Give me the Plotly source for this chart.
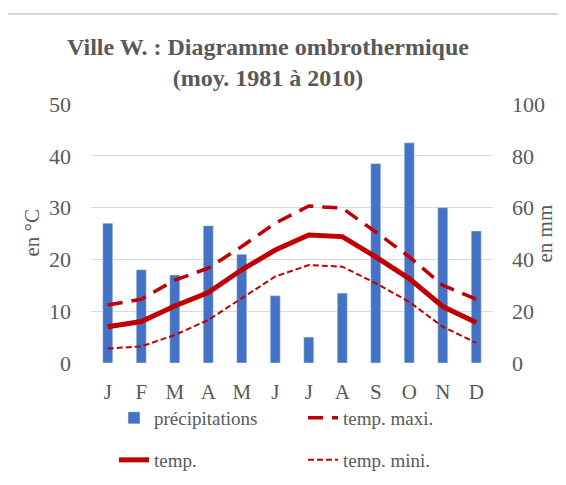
import plotly.graph_objects as go

months = ["J", "F", "M", "A", "M", "J", "J", "A", "S", "O", "N", "D"]
month_ids = list(range(12))
precip_mm = [54, 36, 34, 53, 42, 26, 10, 27, 77, 85, 60, 51]
temp_mean = [7.0, 8.0, 11.0, 13.6, 18.0, 21.8, 24.7, 24.4, 20.5, 16.3, 10.9, 7.8]
temp_max = [11.2, 12.3, 16.0, 18.3, 22.5, 27.0, 30.3, 29.9, 25.3, 20.5, 15.0, 12.3]
temp_min = [2.8, 3.2, 5.4, 8.3, 12.5, 16.7, 18.9, 18.6, 15.4, 11.8, 7.0, 3.9]

FONT = "Liberation Serif, Times New Roman, serif"
GREY = "#595959"
RED = "#C00000"
BLUE = "#4472C4"

fig = go.Figure()
fig.add_trace(go.Bar(x=month_ids, y=precip_mm, name="précipitations", marker_color=BLUE,
                     yaxis="y", legend="legend"))
fig.add_trace(go.Scatter(x=month_ids, y=temp_max, name="temp. maxi.", mode="lines",
                         line=dict(color=RED, width=3.5, dash="15px,9px"), yaxis="y2", legend="legend"))
fig.add_trace(go.Scatter(x=month_ids, y=temp_mean, name="temp.", mode="lines",
                         line=dict(color=RED, width=5), yaxis="y2", legend="legend2"))
fig.add_trace(go.Scatter(x=month_ids, y=temp_min, name="temp. mini.", mode="lines",
                         line=dict(color=RED, width=2, dash="6px,3px"), yaxis="y2", legend="legend2"))

# page body adds an 8px margin on every side; size the figure so no scrollbar appears
OFF = 8
W, H = 566 - 2 * OFF, 485 - 2 * OFF
PL, PR, PT, PB = 91, 493, 104, 363  # target plot area in screenshot pixels
L, T = PL - OFF, PT - OFF
R = W - (PR - OFF)
B = H - (PB - OFF)
pw, ph = PR - PL, PB - PT

tickfont = dict(size=22, color=GREY, family=FONT)
xtickfont = dict(size=21, color=GREY, family=FONT)
legfont = dict(size=19, color=GREY, family=FONT)
axtitlefont = dict(size=21, color=GREY, family=FONT)

fig.update_layout(
    width=W, height=H,
    margin=dict(l=L, r=R, t=T, b=B, autoexpand=False),
    paper_bgcolor="white", plot_bgcolor="white",
    font=dict(family=FONT, color=GREY, size=20),
    title=dict(text="<b>Ville W. : Diagramme ombrothermique<br>(moy. 1981 à 2010)</b>",
               x=(268 - OFF) / W, xanchor="center", y=1 - 47 / H, yanchor="top",
               font=dict(family=FONT, size=24, color=GREY)),
    bargap=0.7,
    showlegend=True,
    xaxis=dict(tickmode="array", tickvals=month_ids, ticktext=months, range=[-0.5, 11.5],
               showgrid=False, zeroline=False, showline=False, ticks="", automargin=False,
               ticklabelstandoff=14, tickfont=xtickfont),
    yaxis=dict(range=[0, 100], dtick=20, side="right", showgrid=True, gridcolor="#D9D9D9",
               gridwidth=1, zeroline=False, showline=False, ticks="", automargin=False,
               ticklabelstandoff=18, tickfont=tickfont),
    yaxis2=dict(range=[0, 50], dtick=10, side="left", overlaying="y", showgrid=False,
                zeroline=False, showline=False, ticks="", automargin=False,
                ticklabelstandoff=19, tickfont=tickfont),
    annotations=[
        dict(text="en °C", xref="paper", yref="paper", x=(31 - PL) / pw, y=0.5,
             xanchor="center", yanchor="middle", textangle=-90, showarrow=False, font=axtitlefont),
        dict(text="en mm", xref="paper", yref="paper", x=(544 - PL) / pw, y=0.5,
             xanchor="center", yanchor="middle", textangle=-90, showarrow=False, font=axtitlefont),
    ],
    legend=dict(orientation="h", x=(114 - PL) / pw, xanchor="left", y=-(418 - PB) / ph,
                yanchor="middle", entrywidth=144, entrywidthmode="pixels",
                font=legfont, bgcolor="rgba(0,0,0,0)"),
    legend2=dict(orientation="h", x=(114 - PL) / pw, xanchor="left", y=-(460 - PB) / ph,
                 yanchor="middle", entrywidth=144, entrywidthmode="pixels",
                 font=legfont, bgcolor="rgba(0,0,0,0)"),
    shapes=[dict(type="rect", xref="paper", yref="paper",
                 x0=(5 - PL) / pw, x1=(620 - PL) / pw, y0=-(560 - PB) / ph, y1=1 + (PT - 14) / ph,
                 line=dict(color="#D9D9D9", width=2), fillcolor="rgba(0,0,0,0)", layer="below")],
)

fig.write_html("out.html")
